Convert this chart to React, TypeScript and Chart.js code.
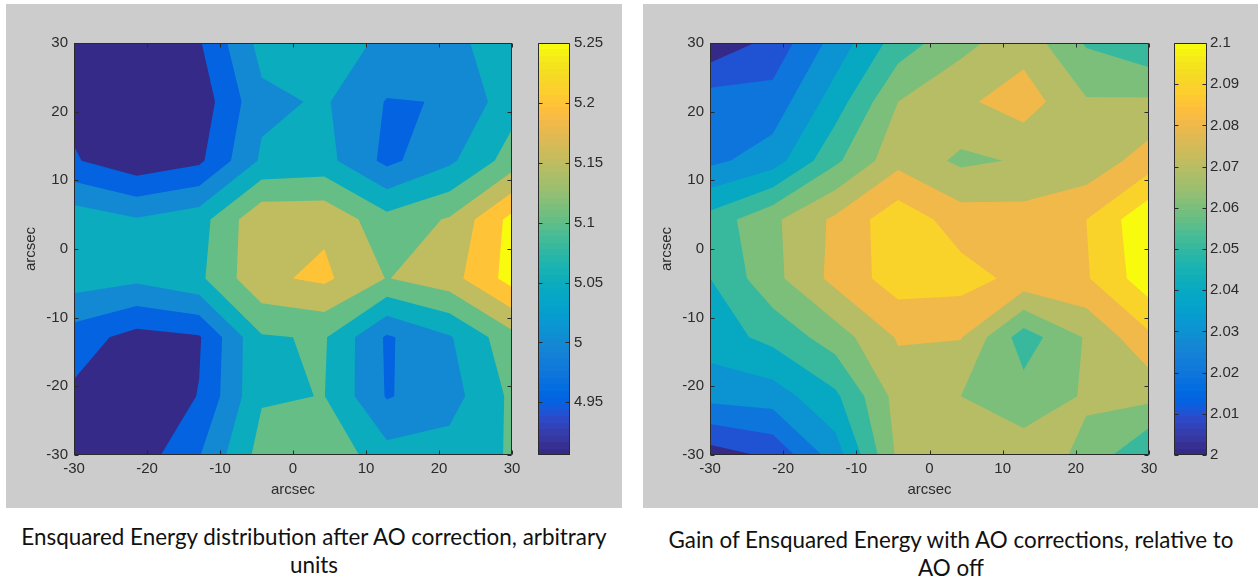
import React, { useEffect, useRef } from 'react';
import { Chart, registerables } from 'chart.js';

Chart.register(...registerables);

// ---------- data ----------
const gridX = [-30, -21.43, -12.86, -4.29, 4.29, 12.86, 21.43, 30];
const gridY = [30, 21.43, 12.86, 4.29, -4.29, -12.86, -21.43, -30];
const axisTicks = [-30, -20, -10, 0, 10, 20, 30];
const axisTitle = 'arcsec';

// Ensquared energy after AO correction (rows: top y=30 -> bottom y=-30)
const energyValues = [
  [4.91, 4.91, 4.945, 5.067, 5.07, 5.042, 5.035, 5.08],
  [4.935, 4.906, 4.92, 5.038, 5.056, 4.997, 5.002, 5.08],
  [4.955, 4.914, 4.94, 5.058, 5.067, 4.987, 5.04, 5.123],
  [5.081, 5.054, 5.08, 5.19, 5.19, 5.117, 5.155, 5.266],
  [5.075, 5.061, 5.09, 5.19, 5.21, 5.148, 5.18, 5.27],
  [4.975, 4.931, 4.945, 5.095, 5.105, 4.993, 5.045, 5.133],
  [4.94, 4.91, 4.952, 5.095, 5.101, 4.996, 5.03, 5.11],
  [4.91, 4.92, 4.997, 5.12, 5.14, 5.068, 5.07, 5.105],
];
const energyLevels = [4.95, 5.0, 5.05, 5.1, 5.15, 5.2, 5.25];
const energyRange = [4.906, 5.25];
const energyBarTicks = [4.95, 5, 5.05, 5.1, 5.15, 5.2, 5.25];
const energyCaption = ['Ensquared Energy distribution after AO correction, arbitrary', 'units'];

// Gain of ensquared energy with AO corrections
const gainValues = [
  [2.002, 2.0133, 2.034, 2.0547, 2.067, 2.076, 2.059, 2.052],
  [2.0257, 2.024, 2.045, 2.07, 2.078, 2.085, 2.071, 2.0714],
  [2.0276, 2.035, 2.058, 2.0769, 2.068, 2.071, 2.073, 2.085],
  [2.054, 2.068, 2.082, 2.0965, 2.085, 2.084, 2.09, 2.108],
  [2.0499, 2.067, 2.083, 2.095, 2.094, 2.087, 2.089, 2.106],
  [2.045, 2.053, 2.065, 2.081, 2.0805, 2.055, 2.071, 2.088],
  [2.0334, 2.035, 2.048, 2.074, 2.07, 2.064, 2.071, 2.073],
  [2.005, 2.012, 2.035, 2.072, 2.074, 2.075, 2.068, 2.049],
];
const gainLevels = [2.01, 2.02, 2.03, 2.04, 2.05, 2.06, 2.07, 2.08, 2.09, 2.1];
const gainRange = [2.0, 2.1];
const gainBarTicks = [2, 2.01, 2.02, 2.03, 2.04, 2.05, 2.06, 2.07, 2.08, 2.09, 2.1];
const gainCaption = ['Gain of Ensquared Energy with AO corrections, relative to', 'AO off'];

// ---------- style ----------
const PARULA = [
  [0.2081, 0.1663, 0.5292], [0.2116, 0.1898, 0.5777], [0.2123, 0.2138, 0.627], [0.2081, 0.2386, 0.6771],
  [0.1959, 0.2645, 0.7279], [0.1707, 0.2919, 0.7792], [0.1253, 0.3242, 0.8303], [0.0591, 0.3598, 0.8683],
  [0.0117, 0.3875, 0.882], [0.006, 0.4086, 0.8828], [0.0165, 0.4266, 0.8786], [0.0329, 0.443, 0.872],
  [0.0498, 0.4586, 0.8641], [0.0629, 0.4737, 0.8554], [0.0723, 0.4887, 0.8467], [0.0779, 0.504, 0.8384],
  [0.0793, 0.52, 0.8312], [0.0749, 0.5375, 0.8263], [0.0641, 0.557, 0.824], [0.0488, 0.5772, 0.8228],
  [0.0343, 0.5966, 0.8199], [0.0265, 0.6137, 0.8135], [0.0239, 0.6287, 0.8038], [0.0231, 0.6418, 0.7913],
  [0.0228, 0.6535, 0.7768], [0.0267, 0.6642, 0.7607], [0.0384, 0.6743, 0.7436], [0.059, 0.6838, 0.7254],
  [0.0843, 0.6928, 0.7062], [0.1133, 0.7015, 0.6859], [0.1453, 0.7098, 0.6646], [0.1801, 0.7177, 0.6424],
  [0.2178, 0.725, 0.6193], [0.2586, 0.7317, 0.5954], [0.3022, 0.7376, 0.5712], [0.3482, 0.7424, 0.5473],
  [0.3953, 0.7459, 0.5244], [0.442, 0.7481, 0.5033], [0.4871, 0.7491, 0.484], [0.53, 0.7491, 0.4661],
  [0.5709, 0.7485, 0.4494], [0.6099, 0.7473, 0.4337], [0.6473, 0.7456, 0.4188], [0.6834, 0.7435, 0.4044],
  [0.7184, 0.7411, 0.3905], [0.7525, 0.7384, 0.3768], [0.7858, 0.7356, 0.3633], [0.8185, 0.7327, 0.3498],
  [0.8507, 0.7299, 0.336], [0.8824, 0.7274, 0.3217], [0.9139, 0.7258, 0.3063], [0.945, 0.7261, 0.2886],
  [0.9739, 0.7314, 0.2666], [0.9938, 0.7455, 0.2403], [0.999, 0.7653, 0.2164], [0.9955, 0.7861, 0.1967],
  [0.988, 0.8066, 0.1794], [0.9789, 0.8271, 0.1633], [0.9697, 0.8481, 0.1475], [0.9626, 0.8705, 0.1309],
  [0.9589, 0.8949, 0.1132], [0.9598, 0.9218, 0.0948], [0.9661, 0.9514, 0.0755], [0.9763, 0.9831, 0.0538],
];
const TEXT = '#2b2b2b';
const LINE = '#2a2a2a';
const FONT = "'Liberation Sans', Arial, Helvetica, sans-serif";
const PANEL = '#cccccc';

function rgbOf(i: number) {
  const c = PARULA[i];
  return `rgb(${Math.round(c[0] * 255)},${Math.round(c[1] * 255)},${Math.round(c[2] * 255)})`;
}
function cmapColor(v: number, range: number[]) {
  const f = (v - range[0]) / (range[1] - range[0]);
  let i = Math.floor(f * 64 + 1e-9);
  i = Math.max(0, Math.min(63, i));
  return rgbOf(i);
}

type P = { x: number; y: number; v: number };
function clipAbove(pts: P[], L: number): P[] {
  const out: P[] = [];
  for (let k = 0; k < pts.length; k++) {
    const a = pts[k];
    const b = pts[(k + 1) % pts.length];
    const ain = a.v >= L;
    const bin = b.v >= L;
    if (ain) out.push(a);
    if (ain !== bin) {
      const t = (L - a.v) / (b.v - a.v);
      out.push({ x: a.x + t * (b.x - a.x), y: a.y + t * (b.y - a.y), v: L });
    }
  }
  return out;
}

function makeContourPlugin(values: number[][], levels: number[], range: number[]) {
  return {
    id: 'contourFill',
    beforeDatasetsDraw(chart: any) {
      const { ctx, chartArea: a, scales } = chart;
      const sx = scales.x;
      const sy = scales.y;
      const pts: P[][] = values.map((row, j) =>
        row.map((v, i) => ({ x: sx.getPixelForValue(gridX[i]), y: sy.getPixelForValue(gridY[j]), v }))
      );
      ctx.save();
      ctx.beginPath();
      ctx.rect(a.left, a.top, a.right - a.left, a.bottom - a.top);
      ctx.clip();
      ctx.fillStyle = cmapColor(range[0], range);
      ctx.fillRect(a.left, a.top, a.right - a.left, a.bottom - a.top);
      for (const L of levels) {
        ctx.beginPath();
        for (let j = 0; j < pts.length - 1; j++) {
          for (let i = 0; i < pts[j].length - 1; i++) {
            const quad = [pts[j][i], pts[j][i + 1], pts[j + 1][i + 1], pts[j + 1][i]];
            const poly = clipAbove(quad, L);
            if (poly.length < 3) continue;
            ctx.moveTo(poly[0].x, poly[0].y);
            for (let k = 1; k < poly.length; k++) ctx.lineTo(poly[k].x, poly[k].y);
            ctx.closePath();
          }
        }
        ctx.fillStyle = cmapColor(L, range);
        ctx.fill();
      }
      ctx.restore();
    },
  };
}

const axesBoxPlugin = {
  id: 'axesBox',
  afterDatasetsDraw(chart: any) {
    const { ctx, chartArea: a, scales } = chart;
    const l = Math.round(a.left) + 0.5;
    const r = Math.round(a.right) - 0.5;
    const t = Math.round(a.top) + 0.5;
    const b = Math.round(a.bottom) - 0.5;
    ctx.save();
    ctx.strokeStyle = LINE;
    ctx.lineWidth = 1;
    ctx.beginPath();
    ctx.rect(l, t, r - l, b - t);
    const len = 4;
    if (scales.x && scales.x.options.display !== false) {
      for (const tk of scales.x.ticks) {
        const px = Math.round(scales.x.getPixelForValue(tk.value)) + 0.5;
        ctx.moveTo(px, b);
        ctx.lineTo(px, b - len);
        ctx.moveTo(px, t);
        ctx.lineTo(px, t + len);
      }
    }
    const ys = scales.y;
    for (const tk of ys.ticks) {
      const py = Math.round(ys.getPixelForValue(tk.value)) + 0.5;
      ctx.moveTo(l, py);
      ctx.lineTo(l + len, py);
      ctx.moveTo(r, py);
      ctx.lineTo(r - len, py);
    }
    ctx.stroke();
    ctx.restore();
  },
};

const tickFont = { family: FONT, size: 15 };

function fmt(v: any) {
  return String(Number(Number(v).toFixed(2)));
}

function ContourChart(props: {
  values: number[][];
  levels: number[];
  range: number[];
  left: number;
  width: number;
  padLeft: number;
  padRight: number;
}) {
  const ref = useRef<HTMLCanvasElement | null>(null);
  const { values, levels, range, left, width, padLeft, padRight } = props;
  useEffect(() => {
    const canvas = ref.current;
    if (!canvas) return;
    const points = gridY.flatMap((y, j) => gridX.map((x, i) => ({ x, y, v: values[j][i] })));
    const chart = new Chart(canvas, {
      type: 'scatter',
      data: { datasets: [{ data: points, pointRadius: 0, pointHoverRadius: 0 }] },
      options: {
        responsive: false,
        animation: false,
        devicePixelRatio: 1,
        events: [],
        layout: { padding: { left: padLeft, right: padRight, top: 39, bottom: 9 } },
        plugins: { legend: { display: false }, tooltip: { enabled: false } },
        scales: {
          x: {
            type: 'linear',
            min: -30,
            max: 30,
            afterBuildTicks: (s: any) => {
              s.ticks = axisTicks.map((v) => ({ value: v }));
            },
            ticks: { color: TEXT, font: tickFont, padding: 5, maxRotation: 0, autoSkip: false, callback: fmt },
            grid: { display: false, drawTicks: false },
            border: { display: false },
            title: { display: true, text: axisTitle, color: TEXT, font: tickFont, padding: 0 },
            afterFit: (s: any) => {
              s.height = 44;
            },
          },
          y: {
            type: 'linear',
            min: -30,
            max: 30,
            afterBuildTicks: (s: any) => {
              s.ticks = axisTicks.map((v) => ({ value: v }));
            },
            ticks: { color: TEXT, font: tickFont, padding: 6, autoSkip: false, callback: fmt },
            grid: { display: false, drawTicks: false },
            border: { display: false },
            title: { display: true, text: axisTitle, color: TEXT, font: tickFont, padding: 0 },
            afterFit: (s: any) => {
              s.width = 52;
            },
          },
        },
      } as any,
      plugins: [makeContourPlugin(values, levels, range), axesBoxPlugin],
    });
    return () => chart.destroy();
  }, []);
  return (
    <canvas
      ref={ref}
      width={width}
      height={504}
      style={{ position: 'absolute', left, top: 4, width, height: 504 }}
    />
  );
}

function ColorBar(props: { range: number[]; ticks: number[]; left: number; width: number; padLeft: number; axisW: number; labelPad: number }) {
  const ref = useRef<HTMLCanvasElement | null>(null);
  const { range, ticks, left, width, padLeft, axisW, labelPad } = props;
  useEffect(() => {
    const canvas = ref.current;
    if (!canvas) return;
    const gradient = (c: any) => {
      const chart = c.chart;
      if (!chart.chartArea) return 'transparent';
      const sy = chart.scales.y;
      const y0 = sy.getPixelForValue(range[0]);
      const y1 = sy.getPixelForValue(range[1]);
      const g = chart.ctx.createLinearGradient(0, y0, 0, y1);
      for (let i = 0; i < 64; i++) {
        g.addColorStop(i / 64, rgbOf(i));
        g.addColorStop(Math.min(1, (i + 1) / 64 - 0.0001), rgbOf(i));
      }
      return g;
    };
    const chart = new Chart(canvas, {
      type: 'bar',
      data: {
        labels: [''],
        datasets: [
          {
            data: [[range[0], range[1]]],
            backgroundColor: gradient,
            borderWidth: 0,
            barPercentage: 1,
            categoryPercentage: 1,
          },
        ],
      },
      options: {
        responsive: false,
        animation: false,
        devicePixelRatio: 1,
        events: [],
        layout: { padding: { left: padLeft, right: 0, top: 39, bottom: 53 } },
        plugins: { legend: { display: false }, tooltip: { enabled: false } },
        scales: {
          x: { display: false },
          y: {
            type: 'linear',
            position: 'right',
            min: range[0],
            max: range[1],
            afterBuildTicks: (s: any) => {
              s.ticks = ticks.map((v) => ({ value: v }));
            },
            ticks: { color: TEXT, font: tickFont, padding: labelPad, autoSkip: false, callback: fmt },
            grid: { display: false, drawTicks: false },
            border: { display: false },
            afterFit: (s: any) => {
              s.width = axisW;
            },
          },
        },
      } as any,
      plugins: [axesBoxPlugin],
    });
    return () => chart.destroy();
  }, []);
  return (
    <canvas
      ref={ref}
      width={width}
      height={504}
      style={{ position: 'absolute', left, top: 4, width, height: 504 }}
    />
  );
}

function Caption(props: { lines: string[]; left: number; width: number; top: number }) {
  return (
    <div
      style={{
        position: 'absolute',
        left: props.left,
        top: props.top,
        width: props.width,
        textAlign: 'center',
        fontFamily: "Lato, 'Open Sans', sans-serif",
        fontSize: 22.4,
        lineHeight: '28px',
        color: '#111',
        whiteSpace: 'nowrap',
      }}
    >
      {props.lines.map((l, i) => (
        <div key={i}>{l}</div>
      ))}
    </div>
  );
}

export default function App() {
  return (
    <div style={{ position: 'absolute', left: 0, top: 0, width: 1260, height: 580, background: '#ffffff', overflow: 'hidden' }}>
      <div style={{ position: 'absolute', left: 6, top: 4, width: 616, height: 504, background: PANEL }} />
      <div style={{ position: 'absolute', left: 643, top: 4, width: 615, height: 504, background: PANEL }} />
      <ContourChart values={energyValues} levels={energyLevels} range={energyRange} left={6} width={530} padLeft={16} padRight={24} />
      <ColorBar range={energyRange} ticks={energyBarTicks} left={530} width={92} padLeft={8} axisW={52} labelPad={4} />
      <ContourChart values={gainValues} levels={gainLevels} range={gainRange} left={643} width={525} padLeft={15} padRight={19} />
      <ColorBar range={gainRange} ticks={gainBarTicks} left={1168} width={90} padLeft={6} axisW={51} labelPad={3} />
      <Caption lines={energyCaption} left={6} width={616} top={523} />
      <Caption lines={gainCaption} left={643} width={616} top={526} />
    </div>
  );
}
